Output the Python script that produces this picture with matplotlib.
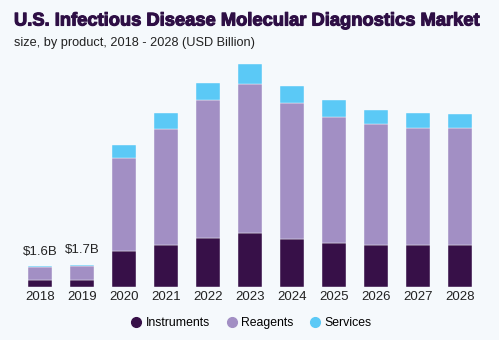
import matplotlib
matplotlib.use("Agg")
import matplotlib.pyplot as plt
from matplotlib.lines import Line2D
import matplotlib.patheffects as pe

years = ["2018", "2019", "2020", "2021", "2022", "2023", "2024", "2025", "2026", "2027", "2028"]
instruments = [0.52, 0.50, 2.75, 3.18, 3.74, 4.15, 3.66, 3.36, 3.20, 3.20, 3.20]
reagents = [0.97, 1.08, 7.12, 8.90, 10.53, 11.35, 10.36, 9.62, 9.26, 8.93, 8.90]
services = [0.11, 0.12, 0.97, 1.22, 1.32, 1.50, 1.32, 1.30, 1.07, 1.17, 1.12]
value_labels = {0: "$1.6B", 1: "$1.7B"}

c_inst = "#371048"
c_reag = "#A28FC4"
c_serv = "#5BC9F6"
bg = "#F5F9FC"

plt.rcParams['font.family'] = ['Liberation Sans', 'DejaVu Sans']

fig = plt.figure(figsize=(4.99, 3.40), dpi=100, facecolor=bg)
ax = fig.add_axes([0, (340 - 287) / 340, 1, (287 - 60) / 340])
ax.set_facecolor(bg)

x = list(range(len(years)))
w = 0.57
ax.bar(x, instruments, width=w, color=c_inst, edgecolor=bg, linewidth=0.3)
bot2 = [a for a in instruments]
ax.bar(x, reagents, width=w, bottom=bot2, color=c_reag, edgecolor=bg, linewidth=0.3)
bot3 = [a + b for a, b in zip(instruments, reagents)]
ax.bar(x, services, width=w, bottom=bot3, color=c_serv, edgecolor=bg, linewidth=0.3)

for i, lab in value_labels.items():
    tot = instruments[i] + reagents[i] + services[i]
    ax.annotate(lab, (i, tot), xytext=(0, 6), textcoords="offset points",
                ha="center", va="bottom", fontsize=9.5, color="#222222")

ax.set_xlim((0 - 40) / 42, (499 - 40) / 42)
ax.set_ylim(0, (287 - 60) / 13.1)
ax.set_xticks(x)
ax.set_xticklabels(years, fontsize=9.5, color="#222222")
ax.tick_params(axis="x", length=0, pad=3)
ax.set_yticks([])
for s in ax.spines.values():
    s.set_visible(False)

title_color = "#2E0F45"
fig.text(14 / 499, 1 - 21 / 340, "U.S. Infectious Disease Molecular Diagnostics Market",
         fontsize=13.2, fontweight="bold", color=title_color, va="center", ha="left",
         path_effects=[pe.withStroke(linewidth=0.8, foreground=title_color)])
fig.text(14 / 499, 1 - 43 / 340, "size, by product, 2018 - 2028 (USD Billion)",
         fontsize=9.2, color="#222222", va="center", ha="left")

handles = [Line2D([], [], marker="o", linestyle="", markersize=7, color=c) for c in (c_inst, c_reag, c_serv)]
fig.legend(handles, ["Instruments", "Reagents", "Services"], loc="center",
           bbox_to_anchor=(251 / 499, 1 - 323 / 340), ncol=3, frameon=False,
           fontsize=8.8, handletextpad=0.25, columnspacing=1.3, handlelength=1.0)

fig.savefig("out.png", dpi=100, facecolor=bg)
